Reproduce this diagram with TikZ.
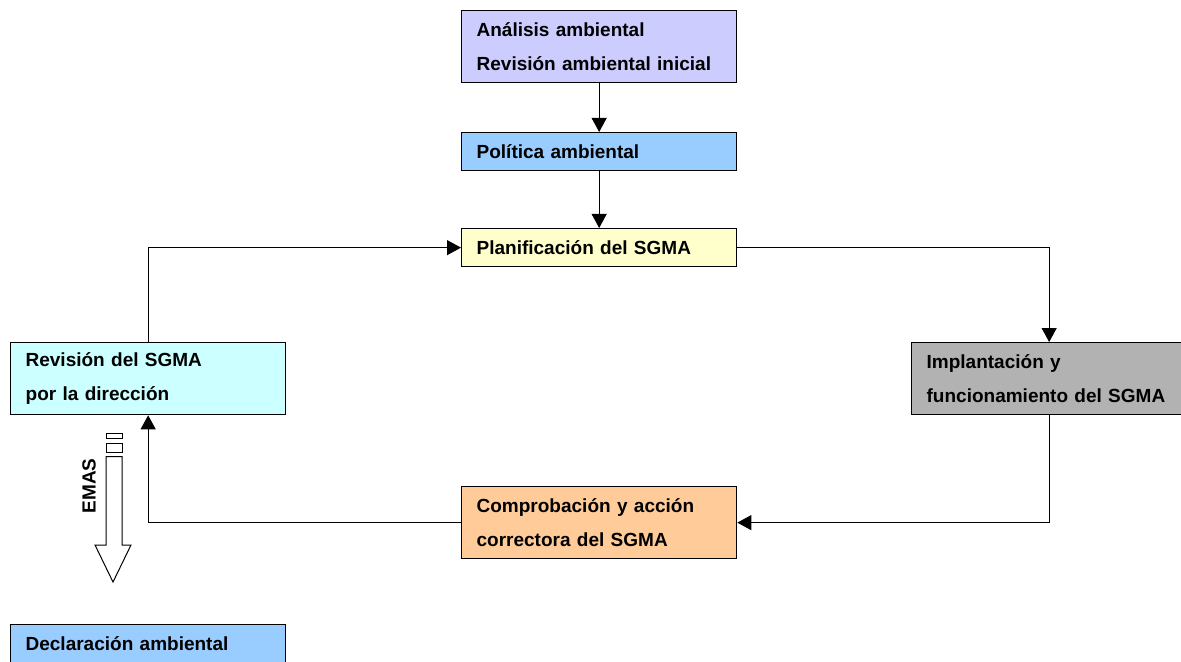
\documentclass[tikz,border=0pt]{standalone}
\usepackage{fontspec}
\setmainfont{Liberation Sans}
\usetikzlibrary{arrows.meta}
\definecolor{cAna}{HTML}{CCCCFF}
\definecolor{cPol}{HTML}{99CCFF}
\definecolor{cPla}{HTML}{FFFFCC}
\definecolor{cRev}{HTML}{CCFFFF}
\definecolor{cImp}{HTML}{B2B2B2}
\definecolor{cCom}{HTML}{FFCC99}
\tikzset{
  box/.style={draw=black, line width=0.65pt, rectangle, anchor=north west,
    minimum width=137.5pt, text width=122.5pt, inner xsep=7.5pt, align=left,
    font=\fontsize{9.5}{17}\selectfont\bfseries},
  tall/.style={box, minimum height=36pt},
  short/.style={box, minimum height=19pt},
  arr/.style={draw=black, line width=0.5pt, -{Triangle[length=7pt,width=7.5pt]}},
  emas/.style={draw=black, line width=0.5pt, fill=white},
}
\begin{document}
\begin{tikzpicture}[x=0.5pt,y=-0.5pt]
\useasboundingbox (0,0) rectangle (1181,662);
\node[tall, fill=cAna] (ana) at (461,10) {Análisis ambiental\\Revisión ambiental inicial};
\node[short, fill=cPol] (pol) at (461,132) {Política ambiental};
\node[short, fill=cPla] (pla) at (461,228) {Planificación del SGMA};
\node[tall, fill=cRev] (rev) at (10,342) {Revisión del SGMA\\por la dirección};
\node[tall, fill=cImp] (imp) at (911,342) {Implantación y\\funcionamiento del SGMA};
\node[tall, fill=cCom] (com) at (461,486) {Comprobación y acción\\correctora del SGMA};
\node[tall, fill=cPol] (dec) at (10,624) {Declaración ambiental\\\phantom{x}};

\draw[arr] (ana) -- (pol);
\draw[arr] (pol) -- (pla);
\draw[arr] (pla.east) -| (imp.north);
\draw[arr] (imp.south) |- (com.east);
\draw[arr] (com.west) -| (rev.south);
\draw[arr] (rev.north) |- (pla.west);

% EMAS block arrow
\draw[emas] (106,433.5) rectangle (122,438.5);
\draw[emas] (106,443) rectangle (122,452.5);
\draw[emas] (106,456.5) -- (106,545) -- (95,545) -- (113,582) -- (131,545) -- (122,545) -- (122,456.5) -- cycle;
\node[rotate=90, font=\fontsize{9.5}{11}\selectfont\bfseries, inner sep=0pt] (emaslbl) at (89,486) {EMAS};
\end{tikzpicture}
\end{document}
